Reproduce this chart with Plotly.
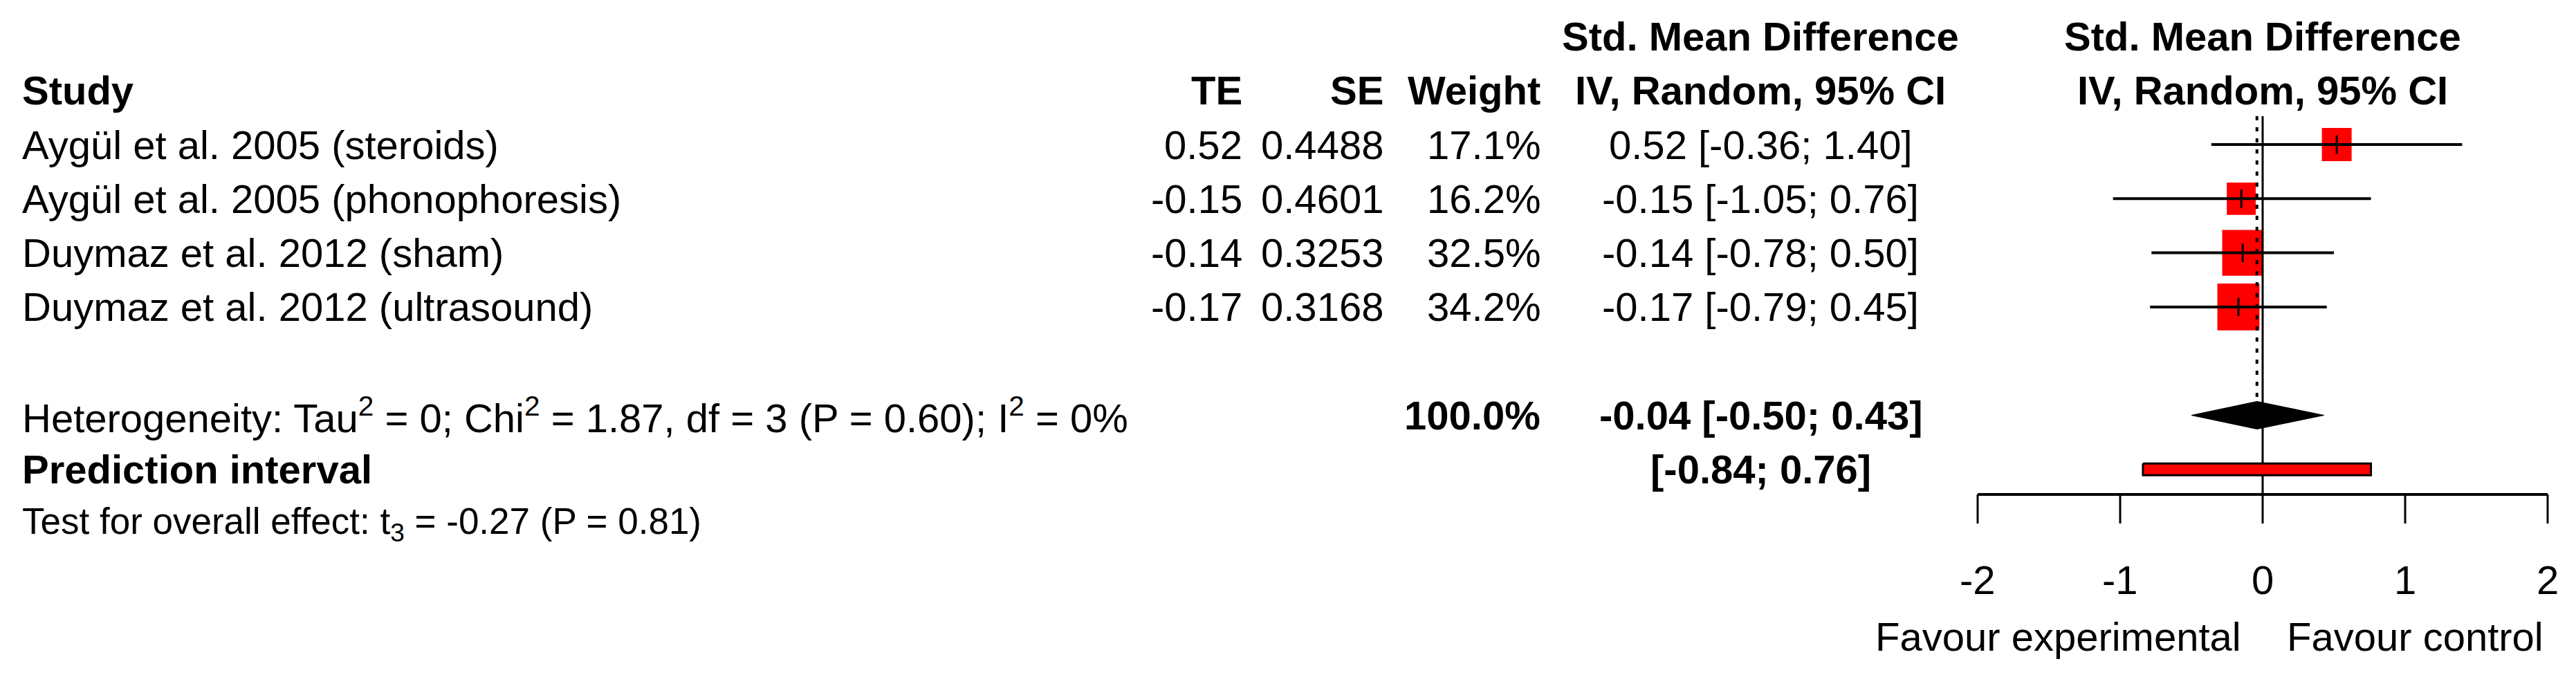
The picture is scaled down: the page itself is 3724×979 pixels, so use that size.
import math
import plotly.graph_objects as go

# ---------------- data ----------------
studies = [
    "Aygül et al. 2005 (steroids)",
    "Aygül et al. 2005 (phonophoresis)",
    "Duymaz et al. 2012 (sham)",
    "Duymaz et al. 2012 (ultrasound)",
]
te = [0.52, -0.15, -0.14, -0.17]
se = [0.4488, 0.4601, 0.3253, 0.3168]
weights = [17.1, 16.2, 32.5, 34.2]
ci_lower = [-0.36, -1.05, -0.78, -0.79]
ci_upper = [1.40, 0.76, 0.50, 0.45]

pooled_est = -0.04
pooled_lower = -0.50
pooled_upper = 0.43
pi_lower = -0.84
pi_upper = 0.76

tick_vals = [-2, -1, 0, 1, 2]
tick_labels = ["-2", "-1", "0", "1", "2"]

heterogeneity_text = ("Heterogeneity: Tau<sup>2</sup> = 0; Chi<sup>2</sup> = 1.87, "
                      "df = 3 (P = 0.60); I<sup>2</sup> = 0%")
test_text = "Test for overall effect: t<sub>3</sub> = -0.27 (P = 0.81)"
label_left = "Favour experimental"
label_right = "Favour control"
col_header_1 = "Std. Mean Difference"
col_header_2 = "IV, Random, 95% CI"

# ---------------- geometry (pixel <-> data) ----------------
W, H = 3724, 979
OFF = 8                     # default page body margin
X0, SX = 3271.0, 206.0      # page pixel of x=0, pixels per unit
Y0, SY = 209.0, 78.3        # page pixel of row 0, pixels per row
FONT = "Liberation Sans, Arial, Helvetica, sans-serif"
FS = 58


def dx(px):
    return (px - X0) / SX


def fmt(v):
    return f"{v:.2f}"


rows = list(range(len(studies)))
row_pooled = len(studies) + 1
row_pi = row_pooled + 1
row_test = row_pi + 1
row_axis = (715 - Y0) / SY
row_tick_end = (757 - Y0) / SY
row_ticklab = (838 - Y0) / SY
row_favour = (920 - Y0) / SY
row_top = (168 - Y0) / SY

fig = go.Figure()

# study squares (area proportional to weight)
for i, (t, w) in enumerate(zip(te, weights)):
    hw = 5.2 * math.sqrt(w) / SX
    hh = 5.8 * math.sqrt(w) / SY
    fig.add_trace(go.Scatter(
        x=[t - hw, t + hw, t + hw, t - hw, t - hw],
        y=[i - hh, i - hh, i + hh, i + hh, i - hh],
        mode="lines", fill="toself", fillcolor="#ff0000",
        line=dict(width=0, color="#ff0000"), hoverinfo="skip"))

# reference line at 0 (solid)
fig.add_trace(go.Scatter(x=[0, 0], y=[row_top, row_axis], mode="lines",
                         line=dict(color="black", width=3), hoverinfo="skip"))
# pooled estimate line (dashed)
fig.add_trace(go.Scatter(x=[pooled_est, pooled_est], y=[row_top, row_pooled - 0.255],
                         mode="lines", line=dict(color="black", width=4, dash="6px,10px"),
                         hoverinfo="skip"))

# confidence interval lines
cx, cy = [], []
for i, (lo, hi) in enumerate(zip(ci_lower, ci_upper)):
    cx += [lo, hi, None]
    cy += [i, i, None]
fig.add_trace(go.Scatter(x=cx, y=cy, mode="lines",
                         line=dict(color="black", width=4), hoverinfo="skip"))
# point estimate ticks
fig.add_trace(go.Scatter(x=te, y=rows, mode="markers",
                         marker=dict(symbol="line-ns", size=19,
                                     line=dict(color="black", width=3)),
                         hoverinfo="skip"))

# pooled diamond
dh = 20 / SY
fig.add_trace(go.Scatter(
    x=[pooled_lower, pooled_est, pooled_upper, pooled_est, pooled_lower],
    y=[row_pooled, row_pooled - dh, row_pooled, row_pooled + dh, row_pooled],
    mode="lines", fill="toself", fillcolor="black",
    line=dict(color="black", width=1), hoverinfo="skip"))

# prediction interval bar
ph = 8.5 / SY
fig.add_trace(go.Scatter(
    x=[pi_lower, pi_upper, pi_upper, pi_lower, pi_lower],
    y=[row_pi - ph, row_pi - ph, row_pi + ph, row_pi + ph, row_pi - ph],
    mode="lines", fill="toself", fillcolor="#ff0000",
    line=dict(color="black", width=3), hoverinfo="skip"))

# axis line and ticks
fig.add_trace(go.Scatter(x=[tick_vals[0], tick_vals[-1]], y=[row_axis, row_axis],
                         mode="lines", line=dict(color="black", width=4), hoverinfo="skip"))
tx, ty = [], []
for v in tick_vals:
    tx += [v, v, None]
    ty += [row_axis, row_tick_end, None]
fig.add_trace(go.Scatter(x=tx, y=ty, mode="lines",
                         line=dict(color="black", width=3), hoverinfo="skip"))

# ---------------- text ----------------
ann = []


def add(text, x, row, anchor, bold=False, size=FS, xshift=0):
    ann.append(dict(x=x, y=row, xref="x", yref="y",
                    text=f"<b>{text}</b>" if bold else text,
                    showarrow=False, xanchor=anchor, yanchor="middle",
                    xshift=xshift, font=dict(size=size, color="black", family=FONT)))


LEFT, TE_R, SE_R, W_R, CI_C = dx(30), dx(1798), dx(2002), dx(2229), dx(2545)

# headers
add("Study", LEFT, -1, "left", bold=True)
add("TE", TE_R, -1, "right", bold=True)
add("SE", SE_R, -1, "right", bold=True)
add("Weight", W_R, -1, "right", bold=True)
add(col_header_1, CI_C, -2, "center", bold=True)
add(col_header_2, CI_C, -1, "center", bold=True)
add(col_header_1, 0, -2, "center", bold=True)
add(col_header_2, 0, -1, "center", bold=True)

# study rows
for i, name in enumerate(studies):
    add(name, LEFT, i, "left")
    add(fmt(te[i]), TE_R, i, "right")
    add(f"{se[i]:.4f}", SE_R, i, "right")
    add(f"{weights[i]:.1f}%", W_R, i, "right")
    add(f"{fmt(te[i])} [{fmt(ci_lower[i])}; {fmt(ci_upper[i])}]", CI_C, i, "center")

# summary rows
add(heterogeneity_text, LEFT, row_pooled, "left")
add(f"{sum(weights):.1f}%", W_R, row_pooled, "right", bold=True)
add(f"{fmt(pooled_est)} [{fmt(pooled_lower)}; {fmt(pooled_upper)}]", CI_C, row_pooled,
    "center", bold=True)
add("Prediction interval", LEFT, row_pi, "left", bold=True)
add(f"[{fmt(pi_lower)}; {fmt(pi_upper)}]", CI_C, row_pi, "center", bold=True)
add(test_text, LEFT, row_test, "left", size=53)

# axis labels
for v, lab in zip(tick_vals, tick_labels):
    add(lab, v, row_ticklab, "center")
add(label_left, 0, row_favour, "right", xshift=-29)
add(label_right, 0, row_favour, "left", xshift=33)

fig.update_layout(
    width=W - OFF, height=H - OFF,
    margin=dict(l=0, r=0, t=0, b=0),
    paper_bgcolor="white", plot_bgcolor="white",
    showlegend=False,
    annotations=ann,
    xaxis=dict(range=[dx(OFF), dx(W)], visible=False, fixedrange=True),
    yaxis=dict(range=[(H - Y0) / SY, (OFF - Y0) / SY], visible=False, fixedrange=True),
)

fig.write_html("out.html")
